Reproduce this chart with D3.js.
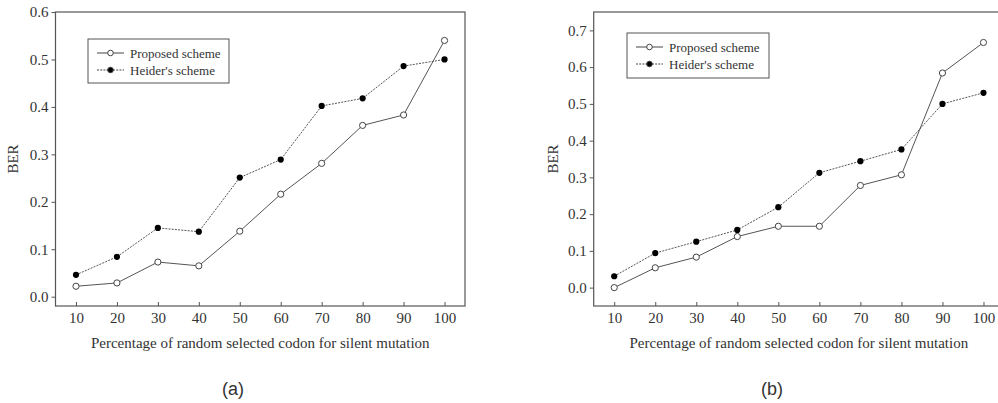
<!DOCTYPE html>
<meta charset="utf-8">
<style>
body { margin: 0; background: #fff; }
svg { display: block; }
.tick text { font-family: "Liberation Serif", "Times New Roman", serif; font-size: 15px; fill: #333; }
.axis path, .axis line { stroke: #555; }
.frame { fill: none; stroke: #555; stroke-width: 1.2; }
.lbl { font-family: "Liberation Serif", "Times New Roman", serif; font-size: 15px; fill: #333; }
.cap { font-family: "Liberation Sans", Arial, sans-serif; font-size: 18px; fill: #333; }
</style>
<body>
<div id="chart"></div>
</body>
<script src="https://cdnjs.cloudflare.com/ajax/libs/d3/7.8.5/d3.min.js"></script>
<script>

var width = 998,
    height = 403;

// x values shared by both panels
var percents = [10, 20, 30, 40, 50, 60, 70, 80, 90, 100];

// panel (a)
var proposedA = [0.022, 0.029, 0.073, 0.065, 0.138, 0.216, 0.281, 0.361, 0.383, 0.540];
var heiderA   = [0.046, 0.084, 0.145, 0.137, 0.251, 0.289, 0.402, 0.418, 0.486, 0.500];
var yTicksA = [0.0, 0.1, 0.2, 0.3, 0.4, 0.5, 0.6];

// panel (b)
var proposedB = [0.000, 0.054, 0.083, 0.139, 0.167, 0.167, 0.278, 0.307, 0.584, 0.667];
var heiderB   = [0.031, 0.094, 0.125, 0.157, 0.219, 0.3125, 0.344, 0.376, 0.500, 0.530];
var yTicksB = [0.0, 0.1, 0.2, 0.3, 0.4, 0.5, 0.6, 0.7];

var seriesNames = ["Proposed scheme", "Heider's scheme"];
var xTitle = "Percentage of random selected codon for silent mutation";

var svg = d3.select("#chart").append("svg")
    .attr("width", width)
    .attr("height", height);

function drawPanel(opt) {
  var x = d3.scaleLinear().domain([5, 105]).range([opt.left, opt.right]);
  var y = d3.scaleLinear().domain(opt.yDomain).range([opt.bottom, opt.top]);
  var g = svg.append("g");

  // frame
  g.append("rect")
    .attr("class", "frame")
    .attr("x", opt.left)
    .attr("y", opt.top)
    .attr("width", opt.right - opt.left)
    .attr("height", opt.bottom - opt.top);

  // y axis, ticks outward
  var ya = g.append("g")
    .attr("class", "axis")
    .attr("transform", "translate(" + opt.left + ",0)")
    .call(d3.axisLeft(y).tickValues(opt.yTicks).tickFormat(d3.format(".1f")).tickSize(4).tickPadding(3));
  ya.select(".domain").remove();

  // x axis, ticks inward
  var xa = g.append("g")
    .attr("class", "axis")
    .attr("transform", "translate(0," + opt.bottom + ")")
    .call(d3.axisBottom(x).tickValues(percents).tickSize(-4).tickPadding(6));
  xa.select(".domain").remove();

  var line = d3.line()
    .x(function(d) { return x(d[0]); })
    .y(function(d) { return y(d[1]); });

  var proposed = d3.zip(percents, opt.proposed);
  var heider = d3.zip(percents, opt.heider);

  g.append("path")
    .datum(heider)
    .attr("fill", "none")
    .attr("stroke", "#555")
    .attr("stroke-width", 1)
    .attr("stroke-dasharray", "2,1.2")
    .attr("d", line);

  g.append("path")
    .datum(proposed)
    .attr("fill", "none")
    .attr("stroke", "#555")
    .attr("stroke-width", 1)
    .attr("d", line);

  g.selectAll(".hd")
    .data(heider)
    .enter().append("circle")
    .attr("cx", function(d) { return x(d[0]); })
    .attr("cy", function(d) { return y(d[1]); })
    .attr("r", 3.1)
    .attr("fill", "#000");

  g.selectAll(".pr")
    .data(proposed)
    .enter().append("circle")
    .attr("cx", function(d) { return x(d[0]); })
    .attr("cy", function(d) { return y(d[1]); })
    .attr("r", 3.1)
    .attr("fill", "#fff")
    .attr("stroke", "#444")
    .attr("stroke-width", 1);

  // axis titles
  g.append("text")
    .attr("class", "lbl")
    .attr("transform", "translate(" + opt.yLabelX + "," + ((opt.top + opt.bottom) / 2) + ") rotate(-90)")
    .attr("text-anchor", "middle")
    .text("BER");

  g.append("text")
    .attr("class", "lbl")
    .attr("x", (opt.left + opt.right) / 2)
    .attr("y", 348)
    .attr("text-anchor", "middle")
    .text(xTitle);

  g.append("text")
    .attr("class", "cap")
    .attr("x", opt.capX)
    .attr("y", 395)
    .attr("text-anchor", "middle")
    .text(opt.cap);

  // legend
  var L = opt.legend;
  g.append("rect")
    .attr("x", L.x).attr("y", L.y)
    .attr("width", L.w).attr("height", L.h)
    .attr("fill", "#fff")
    .attr("stroke", "#555")
    .attr("stroke-width", 1);

  seriesNames.forEach(function(name, i) {
    var ly = L.y + 14 + i * 17;
    var lx = L.x + 9;
    g.append("line")
      .attr("x1", lx).attr("x2", lx + 27)
      .attr("y1", ly).attr("y2", ly)
      .attr("stroke", "#444")
      .attr("stroke-dasharray", i === 1 ? "2,1.2" : null);
    g.append("circle")
      .attr("cx", lx + 13.5).attr("cy", ly)
      .attr("r", 2.8)
      .attr("fill", i === 1 ? "#000" : "#fff")
      .attr("stroke", "#444");
    g.append("text")
      .attr("class", "lbl")
      .style("font-size", "13px")
      .attr("x", lx + 33)
      .attr("y", ly + 4.5)
      .text(name);
  });
}

drawPanel({
  left: 55.5, right: 465, top: 12, bottom: 306,
  yDomain: [-0.0196, 0.6],
  yTicks: yTicksA,
  proposed: proposedA, heider: heiderA,
  yLabelX: 18, capX: 233, cap: "(a)",
  legend: { x: 88, y: 39, w: 141, h: 44 }
});

drawPanel({
  left: 593.7, right: 1004, top: 12, bottom: 306,
  yDomain: [-0.05, 0.75],
  yTicks: yTicksB,
  proposed: proposedB, heider: heiderB,
  yLabelX: 558, capX: 772, cap: "(b)",
  legend: { x: 627, y: 33, w: 142, h: 45 }
});

</script>
